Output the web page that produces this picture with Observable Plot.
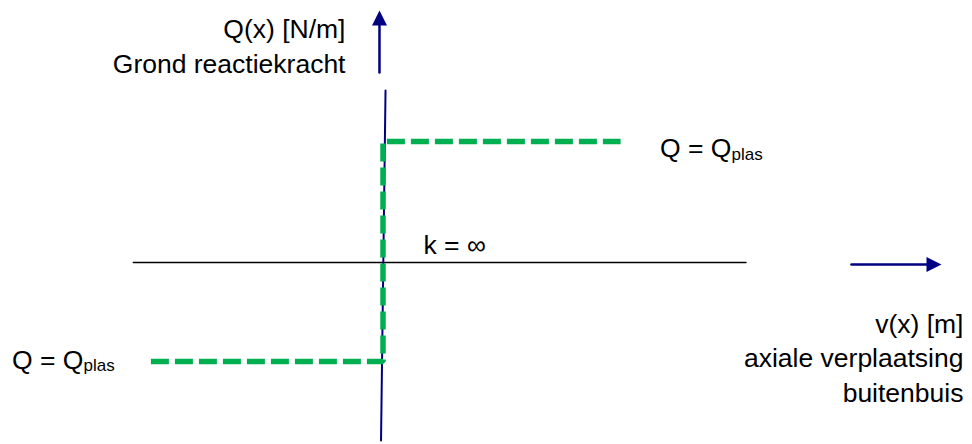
<!DOCTYPE html>
<html>
<head>
<meta charset="utf-8">
<script src="https://cdn.jsdelivr.net/npm/d3@7"></script>
<script src="https://cdn.jsdelivr.net/npm/@observablehq/plot@0.6"></script>
<style>
  html, body { margin: 0; padding: 0; background: #fff; }
  #chart svg { display: block; }
</style>
</head>
<body>
<div id="chart"></div>
<script>
// Rigid-plastic soil reaction law: Q jumps from the lower to the upper plastic level at v = 0
const vPlastic = [-2.11, 0, 0, 2.16];
const qPlastic = [-0.9, -0.9, 1.1, 1.1];

// Infinitely stiff branch (k = ∞), an almost vertical line
const vStiff = [0.023, -0.018];
const qStiff = [1.564, -1.618];

// Horizontal reference line at Q = 0
const vBase = [-2.27, 3.30];
const qBase = [0, 0];

// Axis arrows: [start, tip]
const vAxisQ = [-0.032, -0.032];
const qAxisQ = [1.727, 2.291];
const vAxisV = [4.259, 5.077];
const qAxisV = [-0.018, -0.018];

// Axis labels (right-aligned, multi-line)
const axisLabelText = [
  "Q(x) [N/m]\nGrond reactiekracht",
  "v(x) [m]\naxiale verplaatsing\nbuitenbuis"
];
const axisLabelV = [-0.341, 5.277];
const axisLabelQ = [1.727, -1.264];

// Stiffness label
const stiffText = ["k = ∞"];
const stiffV = [0.368];
const stiffQ = [0.079];

// "Q = Qplas" labels (main text and subscript share an anchor point)
const plasV = [3.168, -2.723];
const plasQ = [0.957, -0.966];

// Layout
const W = 972, H = 444;
const PX = 110;               // pixels per data unit, both axes
const ORIGIN = [382.5, 262];  // pixel position of (v = 0, Q = 0)
const HEAD_LEN = 15 / PX, HEAD_HALF = 7.5 / PX;

const NAVY = "#000080";
const GREEN = "#00b050";
const FONT = "'Liberation Sans', Arial, Helvetica, sans-serif";
const FONT_SIZE = 26.5;

const pts = (xs, ys) => xs.map((x, i) => ({x, y: ys[i]}));
const textRows = (ts, xs, ys) => ts.map((t, i) => ({t, x: xs[i], y: ys[i]}));

// Filled triangular arrow head at the end of a segment
function arrowHead(xs, ys) {
  const [x0, x1] = xs, [y0, y1] = ys;
  const len = Math.hypot(x1 - x0, y1 - y0);
  const ux = (x1 - x0) / len, uy = (y1 - y0) / len;
  const bx = x1 - ux * HEAD_LEN, by = y1 - uy * HEAD_LEN;
  return [
    {x: x1, y: y1},
    {x: bx - uy * HEAD_HALF, y: by + ux * HEAD_HALF},
    {x: bx + uy * HEAD_HALF, y: by - ux * HEAD_HALF},
    {x: x1, y: y1}
  ];
}
// Shaft stops just inside the base of the head
function shaft(xs, ys) {
  const [x0, x1] = xs, [y0, y1] = ys;
  const len = Math.hypot(x1 - x0, y1 - y0);
  const k = (len - HEAD_LEN * 0.9) / len;
  return [{x: x0, y: y0}, {x: x0 + (x1 - x0) * k, y: y0 + (y1 - y0) * k}];
}

const plas = pts(plasV, plasQ);

const chart = Plot.plot({
  width: W,
  height: H,
  margin: 0,
  x: {domain: [-ORIGIN[0] / PX, (W - ORIGIN[0]) / PX], axis: null},
  y: {domain: [-(H - ORIGIN[1]) / PX, ORIGIN[1] / PX], axis: null},
  style: {fontFamily: FONT, background: "#fff", color: "#000"},
  marks: [
    // Q = 0 reference line
    Plot.line(pts(vBase, qBase), {x: "x", y: "y", stroke: "#000", strokeWidth: 1.4}),
    // Stiff branch
    Plot.line(pts(vStiff, qStiff), {x: "x", y: "y", stroke: NAVY, strokeWidth: 2}),
    // Axis arrows
    Plot.line(shaft(vAxisQ, qAxisQ), {x: "x", y: "y", stroke: NAVY, strokeWidth: 2.5}),
    Plot.line(arrowHead(vAxisQ, qAxisQ), {x: "x", y: "y", fill: NAVY, stroke: "none"}),
    Plot.line(shaft(vAxisV, qAxisV), {x: "x", y: "y", stroke: NAVY, strokeWidth: 2.5}),
    Plot.line(arrowHead(vAxisV, qAxisV), {x: "x", y: "y", fill: NAVY, stroke: "none"}),
    // Soil reaction law
    Plot.line(pts(vPlastic, qPlastic), {
      x: "x", y: "y", stroke: GREEN, strokeWidth: 5.5,
      strokeDasharray: "18,6", strokeLinejoin: "miter", strokeLinecap: "butt"
    }),
    // Axis labels
    Plot.text(textRows(axisLabelText, axisLabelV, axisLabelQ), {
      x: "x", y: "y", text: "t", textAnchor: "end",
      lineAnchor: "bottom", lineHeight: 1.3, fontSize: FONT_SIZE, fill: "#000"
    }),
    Plot.text(textRows(stiffText, stiffV, stiffQ), {
      x: "x", y: "y", text: "t", textAnchor: "start",
      lineAnchor: "bottom", fontSize: FONT_SIZE, fill: "#000"
    }),
    // Q = Q_plas
    Plot.text(plas, {x: "x", y: "y", text: () => "Q = Q", textAnchor: "end",
      lineAnchor: "bottom", fontSize: FONT_SIZE, fill: "#000"}),
    Plot.text(plas, {x: "x", y: "y", text: () => "plas", textAnchor: "start",
      lineAnchor: "bottom", fontSize: 17, dy: 2.5, fill: "#000"})
  ]
});

document.getElementById("chart").appendChild(chart);
</script>
</body>
</html>
